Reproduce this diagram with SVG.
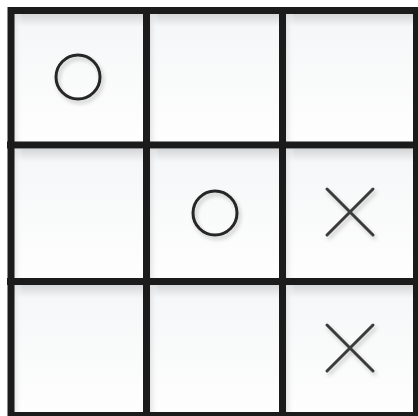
<svg xmlns="http://www.w3.org/2000/svg" width="418" height="416" viewBox="0 0 418 416">
<defs>
<linearGradient id="shadeTop" x1="0" y1="0" x2="0" y2="1">
<stop offset="0" stop-color="#d4d6d8"/>
<stop offset="0.1" stop-color="#f6f7f8"/>
<stop offset="1" stop-color="#fefefe"/>
</linearGradient>
<linearGradient id="shadeLeft" x1="0" y1="0" x2="1" y2="0">
<stop offset="0" stop-color="#dcdee0" stop-opacity="0.8"/>
<stop offset="0.07" stop-color="#ffffff" stop-opacity="0"/>
</linearGradient>
<filter id="soft" x="-30%" y="-30%" width="160%" height="160%">
<feGaussianBlur in="SourceAlpha" stdDeviation="2"/>
<feOffset dx="2" dy="3" result="b"/>
<feComponentTransfer><feFuncA type="linear" slope="0.22"/></feComponentTransfer>
<feMerge><feMergeNode/><feMergeNode in="SourceGraphic"/></feMerge>
</filter>
</defs>
<style>
.cell{fill:url(#shadeTop)}
.cellL{fill:url(#shadeLeft)}
.grid{stroke:#1b1b1b;stroke-width:7;fill:none}
.o{fill:none;stroke:#262626;stroke-width:3}
.x{stroke:#3a3a3a;stroke-width:3;stroke-linecap:round;fill:none}
</style>
<rect width="418" height="416" fill="#ffffff"/>
<g id="cells">
<rect class="cell" x="14" y="14" width="129" height="128"/>
<rect class="cell" x="150" y="14" width="129" height="128"/>
<rect class="cell" x="286" y="14" width="129" height="128"/>
<rect class="cell" x="14" y="149" width="129" height="129"/>
<rect class="cell" x="150" y="149" width="129" height="129"/>
<rect class="cell" x="286" y="149" width="129" height="129"/>
<rect class="cell" x="14" y="285" width="129" height="128"/>
<rect class="cell" x="150" y="285" width="129" height="128"/>
<rect class="cell" x="286" y="285" width="129" height="128"/>
<rect class="cellL" x="14" y="14" width="129" height="128"/>
<rect class="cellL" x="150" y="14" width="129" height="128"/>
<rect class="cellL" x="286" y="14" width="129" height="128"/>
<rect class="cellL" x="14" y="149" width="129" height="129"/>
<rect class="cellL" x="150" y="149" width="129" height="129"/>
<rect class="cellL" x="286" y="149" width="129" height="129"/>
<rect class="cellL" x="14" y="285" width="129" height="128"/>
<rect class="cellL" x="150" y="285" width="129" height="128"/>
<rect class="cellL" x="286" y="285" width="129" height="128"/>
</g>
<g id="grid">
<rect class="grid" x="11" y="10.5" width="405.5" height="405"/>
<line class="grid" x1="146.5" y1="7" x2="146.5" y2="416"/>
<line class="grid" x1="282.5" y1="7" x2="282.5" y2="416"/>
<line class="grid" x1="7" y1="145" x2="418" y2="145"/>
<line class="grid" x1="7" y1="281.5" x2="418" y2="281.5"/>
</g>
<g id="mark-o-1" filter="url(#soft)">
<circle class="o" cx="78" cy="77" r="22"/>
</g>
<g id="mark-o-2" filter="url(#soft)">
<circle class="o" cx="215" cy="213" r="22"/>
</g>
<g id="mark-x-1" filter="url(#soft)">
<path class="x" d="M327 189 L373 235 M373 189 L327 235"/>
</g>
<g id="mark-x-2" filter="url(#soft)">
<path class="x" d="M327 325 L373 371 M373 325 L327 371"/>
</g>
</svg>
